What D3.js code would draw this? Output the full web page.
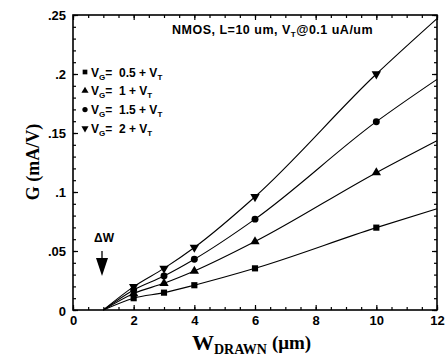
<!DOCTYPE html>
<html>
<head>
<meta charset="utf-8">
<script src="https://cdn.jsdelivr.net/npm/d3@7"></script>
<style>
  body { margin: 0; background: #fff; }
  svg { display: block; }
</style>
</head>
<body>
<svg id="chart"></svg>
<script>
const WIDTH = 448;
const HEIGHT = 362;

// width values (um); 1 is the zero-conductance start, 12 the line end
const widths = [1, 2, 3, 4, 6, 10, 12];
const markerWidths = [2, 3, 4, 6, 10];

const g05 = [0, 0.010, 0.0147, 0.021, 0.0353, 0.0698, 0.0858];
const g10 = [0, 0.014, 0.0226, 0.033, 0.058, 0.1164, 0.1435];
const g15 = [0, 0.017, 0.0288, 0.043, 0.077, 0.1596, 0.1955];
const g20 = [0, 0.0198, 0.0353, 0.053, 0.096, 0.200, 0.247];

const seriesNames = ["0.5", "1", "1.5", "2"];
const seriesSymbols = [d3.symbolSquare, d3.symbolTriangle, d3.symbolCircle, "down"];

const xTicks = [0, 2, 4, 6, 8, 10, 12];
const yTicks = [0, 0.05, 0.1, 0.15, 0.2, 0.25];
const yTickLabels = ["0", ".05", ".1", ".15", ".2", ".25"];

const svg = d3.select("#chart").attr("width", WIDTH).attr("height", HEIGHT);

const xScale = d3.scaleLinear().domain([0, 12]).range([73, 437]);
const yScale = d3.scaleLinear().domain([0, 0.25]).range([310, 15]);

const allSeries = [g05, g10, g15, g20];

// frame
svg.append("rect")
  .attr("x", xScale(0))
  .attr("y", yScale(0.25))
  .attr("width", xScale(12) - xScale(0))
  .attr("height", yScale(0) - yScale(0.25))
  .attr("fill", "none")
  .attr("stroke", "#000")
  .attr("stroke-width", 1.6);

const xMinor = d3.range(0, 12.01, 0.5);
const yMinor = d3.range(0, 0.2501, 0.01);

const styleAxis = (sel) => {
  sel.select(".domain").remove();
  sel.selectAll("line").attr("stroke", "#000").attr("stroke-width", 1.2);
};

// inward ticks on all four sides
const addAxis = (axis, transform, labels) => {
  const g = svg.append("g").attr("transform", transform).call(axis);
  styleAxis(g);
  if (!labels) g.selectAll("text").remove();
  return g;
};

const tickFont = "Liberation Sans, Arial, sans-serif";

const xAxis = addAxis(
  d3.axisBottom(xScale).tickValues(xTicks).tickSize(-5).tickPadding(6).tickFormat(d3.format("d")),
  `translate(0, ${yScale(0)})`, true);
xAxis.selectAll("text")
  .attr("font-family", tickFont)
  .attr("font-weight", "bold")
  .attr("font-size", 13)
  .attr("fill", "#000");

addAxis(d3.axisBottom(xScale).tickValues(xMinor).tickSize(-3), `translate(0, ${yScale(0)})`, false);
addAxis(d3.axisTop(xScale).tickValues(xTicks).tickSize(-5), `translate(0, ${yScale(0.25)})`, false);
addAxis(d3.axisTop(xScale).tickValues(xMinor).tickSize(-3), `translate(0, ${yScale(0.25)})`, false);

const yAxis = addAxis(
  d3.axisLeft(yScale).tickValues(yTicks).tickSize(-5).tickPadding(7)
    .tickFormat((d, i) => yTickLabels[i]),
  `translate(${xScale(0)}, 0)`, true);
yAxis.selectAll("text")
  .attr("font-family", tickFont)
  .attr("font-weight", "bold")
  .attr("font-size", 13)
  .attr("fill", "#000");
yAxis.selectAll(".tick").filter((d) => d === 0).select("text")
  .attr("dy", "0.45em").attr("x", -7);

addAxis(d3.axisLeft(yScale).tickValues(yMinor).tickSize(-3), `translate(${xScale(0)}, 0)`, false);
addAxis(d3.axisRight(yScale).tickValues(yTicks).tickSize(-5), `translate(${xScale(12)}, 0)`, false);
addAxis(d3.axisRight(yScale).tickValues(yMinor).tickSize(-3), `translate(${xScale(12)}, 0)`, false);

// curves
const line = d3.line()
  .x((d, i) => xScale(widths[i]))
  .y((d) => yScale(d))
  .curve(d3.curveMonotoneX);

svg.append("g")
  .selectAll("path")
  .data(allSeries)
  .enter()
  .append("path")
  .attr("d", (d) => line(d))
  .attr("fill", "none")
  .attr("stroke", "#000")
  .attr("stroke-width", 1.1);

const symbolPath = (s, size) => {
  if (s === "down") {
    return d3.symbol().type(d3.symbolTriangle).size(size)();
  }
  return d3.symbol().type(s).size(size)();
};

const symbolRotate = (s) => (s === "down" ? " rotate(180)" : "");

// markers
allSeries.forEach((vals, si) => {
  const pts = widths
    .map((w, i) => ({ w: w, v: vals[i] }))
    .filter((p) => markerWidths.includes(p.w));
  svg.append("g")
    .selectAll("path")
    .data(pts)
    .enter()
    .append("path")
    .attr("d", symbolPath(seriesSymbols[si], 38))
    .attr("transform", (p) => `translate(${xScale(p.w)}, ${yScale(p.v)})${symbolRotate(seriesSymbols[si])}`)
    .attr("fill", "#000");
});

// legend
const legendFont = "Liberation Sans Narrow, Liberation Sans, Arial, sans-serif";
const legend = svg.append("g")
  .attr("font-family", legendFont)
  .attr("font-size", 12)
  .attr("font-weight", "bold")
  .attr("fill", "#000");
seriesNames.forEach((name, i) => {
  const y = 72 + i * 18.8;
  legend.append("path")
    .attr("d", symbolPath(seriesSymbols[i], 22))
    .attr("transform", `translate(85, ${y})${symbolRotate(seriesSymbols[i])}`);
  const t = legend.append("text").attr("x", 91).attr("y", y + 4.5);
  t.append("tspan").text("V");
  t.append("tspan").attr("font-size", 8).attr("dy", 3).text("G");
  t.append("tspan").attr("dy", -3).text("=");
  legend.append("text").attr("x", 119).attr("y", y + 4.5).text(`${name} + V`)
    .append("tspan").attr("font-size", 8).attr("dy", 3).text("T");
});

// title note
const note = svg.append("text")
  .attr("x", 172).attr("y", 34)
  .attr("font-family", legendFont)
  .attr("font-size", 12.5)
  .attr("font-weight", "bold")
  .attr("letter-spacing", 0.5)
  .attr("fill", "#000");
note.append("tspan").text("NMOS, L=10 um, V");
note.append("tspan").attr("font-size", 8).attr("dy", 3).text("T");
note.append("tspan").attr("dy", -3).text("@0.1 uA/um");

// delta W arrow
svg.append("text")
  .attr("x", 104).attr("y", 242)
  .attr("text-anchor", "middle")
  .attr("font-family", legendFont)
  .attr("font-weight", "bold")
  .attr("font-size", 12)
  .text("ΔW");
svg.append("line")
  .attr("x1", 102).attr("x2", 102).attr("y1", 251).attr("y2", 262)
  .attr("stroke", "#000").attr("stroke-width", 1.3);
svg.append("path")
  .attr("d", "M96,258 L108,258 L102,276 Z")
  .attr("fill", "#000");

// axis titles
svg.append("text")
  .attr("transform", "translate(39, 162) rotate(-90)")
  .attr("text-anchor", "middle")
  .attr("font-family", "Liberation Serif, Times New Roman, serif")
  .attr("font-weight", "bold")
  .attr("font-size", 18)
  .text("G (mA/V)");

const xt = svg.append("text")
  .attr("x", 192).attr("y", 350)
  .attr("font-family", "Liberation Serif, Times New Roman, serif")
  .attr("font-weight", "bold")
  .attr("font-size", 22);
xt.append("tspan").text("W");
xt.append("tspan").attr("font-size", 14).attr("dy", 4).text("DRAWN");
xt.append("tspan").attr("font-size", 19).attr("dy", -5).attr("dx", 5).text("(μm)");
</script>
</body>
</html>
